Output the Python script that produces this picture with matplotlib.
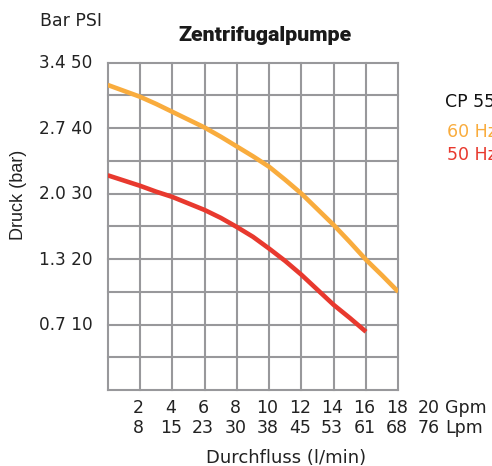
import matplotlib
matplotlib.use("Agg")
import matplotlib.pyplot as plt

# data (flow in Gpm, pressure in PSI)
flow_60 = [0, 1, 2, 3, 4, 5, 6, 7, 8, 9, 10, 11, 12, 13, 14, 15, 16, 17, 18]
psi_60 = [46.6, 45.7, 44.8, 43.7, 42.5, 41.3, 40.1, 38.7, 37.2, 35.7, 34.1,
          32.1, 30.0, 27.6, 25.2, 22.6, 19.9, 17.5, 15.0]
flow_50 = [0, 1, 2, 3, 4, 5, 6, 7, 8, 9, 10, 11, 12, 13, 14, 15, 16]
psi_50 = [32.8, 32.0, 31.2, 30.3, 29.5, 28.5, 27.5, 26.3, 24.9, 23.4, 21.6,
          19.7, 17.6, 15.3, 13.0, 11.0, 8.9]

gpm_labels = [2, 4, 6, 8, 10, 12, 14, 16, 18, 20]
lpm_labels = [8, 15, 23, 30, 38, 45, 53, 61, 68, 76]
psi_ticks = [50, 40, 30, 20, 10]
bar_labels = ["3.4", "2.7", "2.0", "1.3", "0.7"]

orange = "#f9ac3d"
red = "#e8392e"
grid_col = "#98989b"
txt = "#222222"
fs = 12.5

fig = plt.figure(figsize=(4.92, 4.66), dpi=100)
W, H = 492, 466
ax = fig.add_axes([107.7 / W, 1 - 390 / H, 290.6 / W, 327.3 / H])
ax.set_xlim(0, 18)
ax.set_ylim(0, 50)

# grid
for x in range(0, 19, 2):
    ax.axvline(x, color=grid_col, lw=1.5, zorder=1, clip_on=False)
for y in range(0, 51, 5):
    ax.axhline(y, color=grid_col, lw=1.5, zorder=1, clip_on=False)
for s in ax.spines.values():
    s.set_visible(False)
ax.set_xticks([])
ax.set_yticks([])

ax.plot(flow_60, psi_60, color=orange, lw=3.3, zorder=3, solid_capstyle="butt")
ax.plot(flow_50, psi_50, color=red, lw=3.3, zorder=3, solid_capstyle="butt")


def fy(py):
    return 1 - py / H


# x labels (two rows)
for g, l in zip(gpm_labels, lpm_labels):
    xf = (107.7 + (g - 0.1) * 290.6 / 18) / W
    fig.text(xf, fy(412.7), str(g), ha="center", va="baseline", fontsize=fs,
             color=txt)
    fig.text(xf, fy(433.3), str(l), ha="center", va="baseline", fontsize=fs,
             color=txt)
fig.text(445 / W, fy(412.7), "Gpm", ha="left", va="baseline", fontsize=fs,
         color=txt)
fig.text(445 / W, fy(433.3), "Lpm", ha="left", va="baseline", fontsize=fs,
         color=txt)

# y labels
for p, b in zip(psi_ticks, bar_labels):
    py = 390 - p * 327.3 / 50
    fig.text(92.5 / W, fy(py + 5.6), b + " " + str(p), ha="right",
             va="baseline", fontsize=12.2, color=txt)

fig.text(40 / W, fy(26), "Bar PSI", ha="left", va="baseline",
         fontsize=fs, color=txt)
fig.text(19 / W, fy(195), "Druck (bar)", ha="center", va="center",
         rotation=90, fontsize=13, family="Liberation Sans", color=txt)
fig.text(286.5 / W, fy(462.7), "Durchfluss (l/min)", ha="center",
         va="baseline", fontsize=13, color=txt)
fig.text(265 / W, fy(41), "Zentrifugalpumpe", ha="center",
         va="baseline", fontsize=15.4, family=["Roboto", "DejaVu Sans"],
         fontweight="black", color="#1a1a1a")

# legend text (cut at the right edge, like the original)
fig.text(445 / W, fy(106.7), "CP 55", ha="left", va="baseline",
         fontsize=fs, color="#111111")
fig.text(447 / W, fy(137.3), "60 Hz", ha="left", va="baseline",
         fontsize=fs, color=orange)
fig.text(447 / W, fy(160), "50 Hz", ha="left", va="baseline",
         fontsize=fs, color=red)

fig.savefig("out.png", dpi=100)
